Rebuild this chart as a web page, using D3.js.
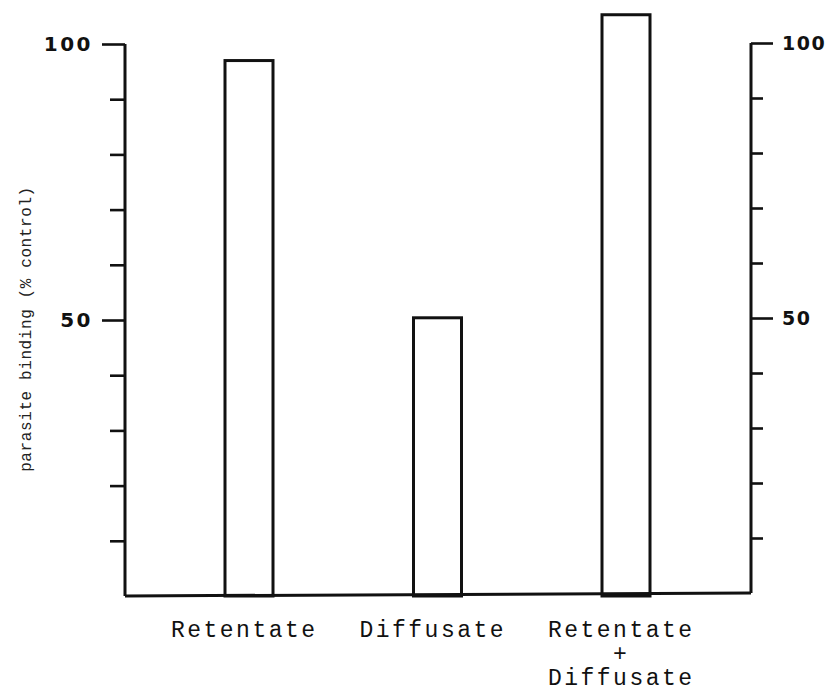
<!DOCTYPE html>
<html><head><meta charset="utf-8">
<script src="https://cdn.jsdelivr.net/npm/d3@7"></script>
<style>body{margin:0;background:#fff}</style>
</head><body>
<svg id="c" width="832" height="695"></svg>
<script>
const categories = ["Retentate", "Diffusate", "Retentate\n+\nDiffusate"];
const values = [97.0, 50.4, 105.3];
const tickValues = [10, 20, 30, 40, 50, 60, 70, 80, 90, 100];
const labeledTicks = [50, 100];
const yLabel = "parasite binding (% control)";

const svg = d3.select("#c");
const ink = "#111";
const yL = d3.scaleLinear().domain([0, 100]).range([596, 44]);
const yR = d3.scaleLinear().domain([0, 100]).range([593, 43]);
const x = d3.scalePoint().domain(categories).range([249, 626]);
const axL = 125, axR = 751, barW = 48;

// left axis
const gL = svg.append("g").attr("transform", `translate(${axL},0)`)
  .call(d3.axisLeft(yL).tickValues(tickValues).tickSize(15).tickFormat(""));
gL.select(".domain").remove();
gL.selectAll(".tick line").attr("stroke", ink).attr("stroke-width", 2.6)
  .attr("x2", d => labeledTicks.includes(d) ? -23 : -15);
svg.append("line").attr("x1", axL).attr("x2", axL).attr("y1", yL(100)).attr("y2", yL(0))
  .attr("stroke", ink).attr("stroke-width", 3);

// right axis
const gR = svg.append("g").attr("transform", `translate(${axR},0)`)
  .call(d3.axisRight(yR).tickValues(tickValues).tickSize(12).tickFormat(""));
gR.select(".domain").remove();
gR.selectAll(".tick line").attr("stroke", ink).attr("stroke-width", 2.6)
  .attr("x2", d => labeledTicks.includes(d) ? 22 : 12);
svg.append("line").attr("x1", axR).attr("x2", axR).attr("y1", yR(100)).attr("y2", yR(0))
  .attr("stroke", ink).attr("stroke-width", 3);

// baseline
svg.append("line").attr("x1", axL).attr("y1", yL(0)).attr("x2", axR).attr("y2", yR(0))
  .attr("stroke", ink).attr("stroke-width", 3);

// tick labels
svg.selectAll("text.tl").data(labeledTicks).enter().append("text")
  .attr("x", 93).attr("y", d => yL(d)).attr("dy", "0.36em")
  .attr("text-anchor", "end").attr("font-family", "'DejaVu Sans', sans-serif")
  .attr("font-weight", "bold").attr("font-size", 20).attr("letter-spacing", 2.5)
  .attr("fill", ink).text(d => d);
svg.selectAll("text.tr").data(labeledTicks).enter().append("text")
  .attr("x", 782).attr("y", d => yR(d)).attr("dy", "0.36em")
  .attr("text-anchor", "start").attr("font-family", "'DejaVu Sans', sans-serif")
  .attr("font-weight", "bold").attr("font-size", 19).attr("letter-spacing", 1.5)
  .attr("fill", ink).text(d => d);

// bars
svg.selectAll("rect.bar").data(categories).enter().append("rect")
  .attr("x", d => x(d) - barW / 2).attr("width", barW)
  .attr("y", (d, i) => yL(values[i])).attr("height", (d, i) => yL(0) - yL(values[i]))
  .attr("fill", "none").attr("stroke", ink).attr("stroke-width", 3);

// category labels
const ls = 2.5;
categories.forEach(c => {
  const lines = c.split("\n");
  const t = svg.append("text").attr("text-anchor", "middle")
    .attr("font-family", "'Liberation Mono', 'Courier New', monospace")
    .attr("font-size", 23).attr("letter-spacing", ls).attr("fill", ink);
  lines.forEach((ln, j) => {
    t.append("tspan").attr("x", x(c) - 6 + ls / 2).attr("y", 637 + j * 24).text(ln);
  });
});

// y label
svg.append("text").attr("transform", `translate(31,329) rotate(-90)`)
  .attr("text-anchor", "middle")
  .attr("font-family", "'Liberation Mono', 'Courier New', monospace")
  .attr("font-size", 16).attr("letter-spacing", 0.6).attr("fill", "#222")
  .text(yLabel);
</script>
</body></html>
